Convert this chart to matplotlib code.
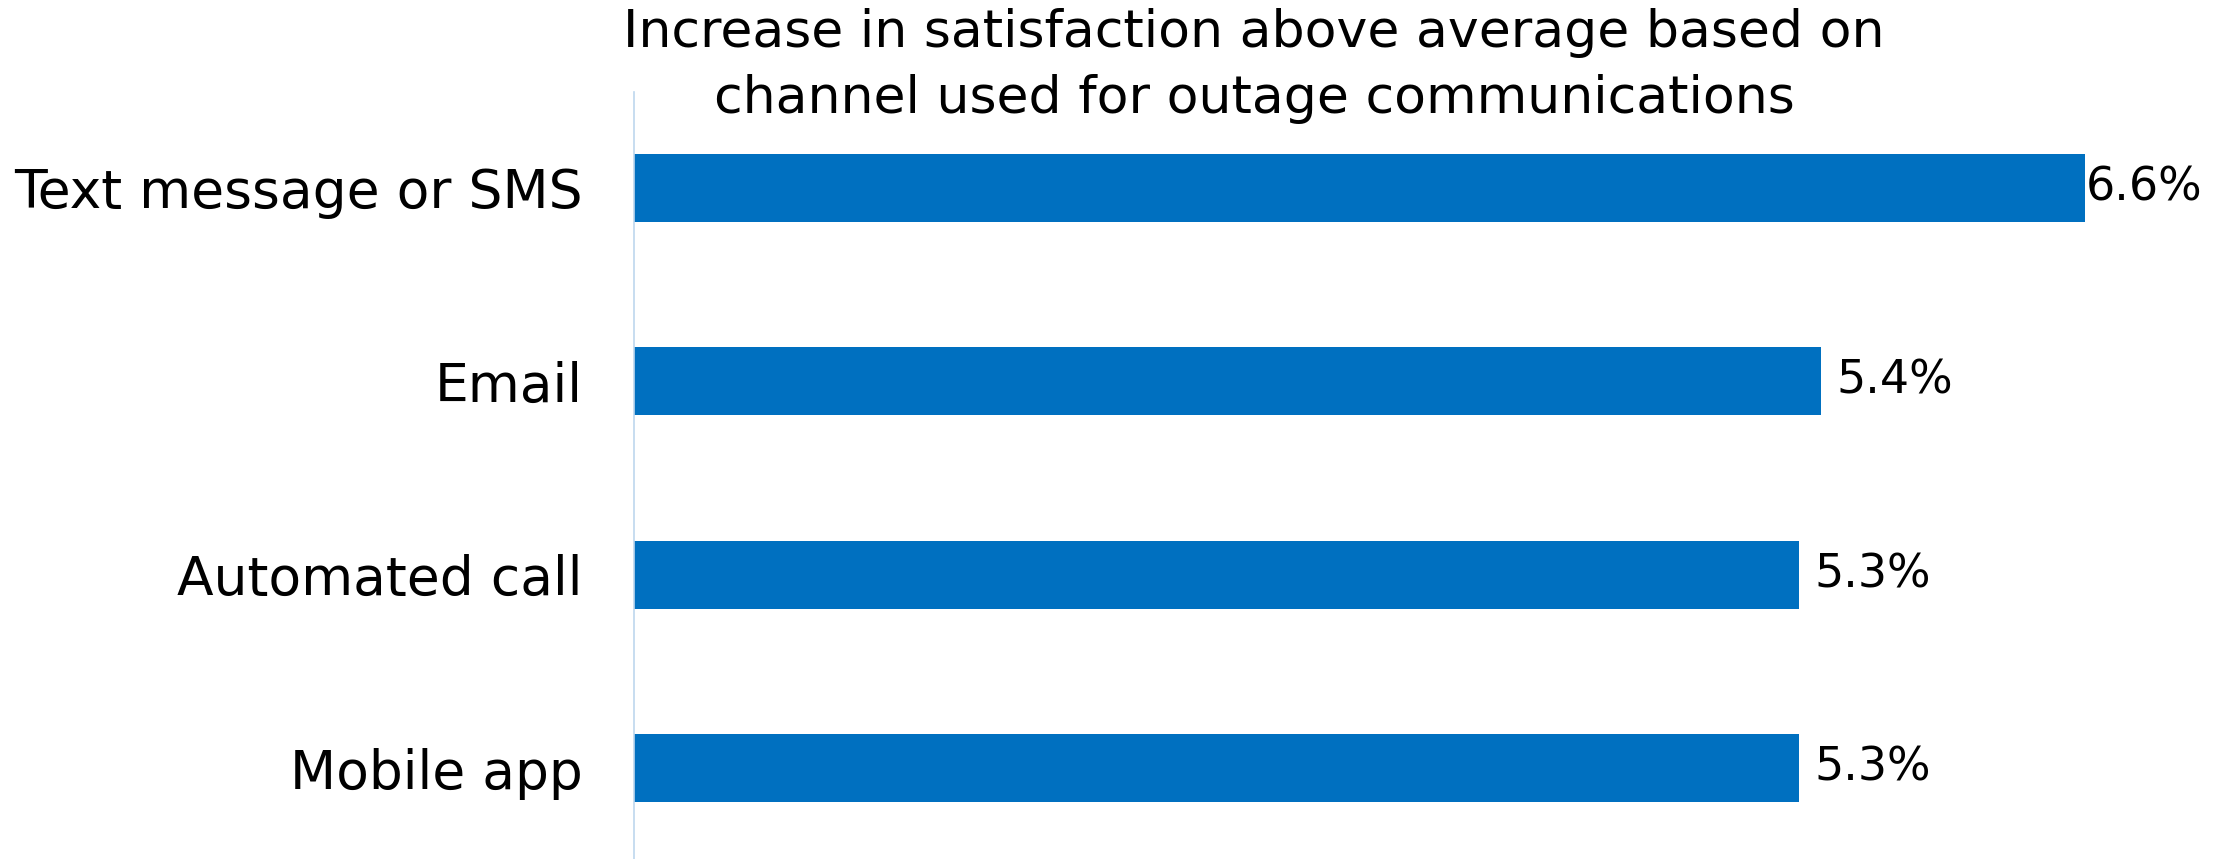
import matplotlib
matplotlib.use("Agg")
import matplotlib.pyplot as plt

plt.rcParams['font.family'] = ['DejaVu Sans']

channels = ["Text message or SMS", "Email", "Automated call", "Mobile app"]
increase = [6.6, 5.4, 5.3, 5.3]
value_labels = ["6.6%", "5.4%", "5.3%", "5.3%"]

bar_color = "#0070C0"
axis_color = "#BDD7EE"

fig = plt.figure(figsize=(22.15, 8.59), dpi=100)
# axes box in figure fractions: left edge at the vertical axis line
ax = fig.add_axes([634 / 2215, 0.0, 1 - 634 / 2215, 1 - 92 / 859])

pos = list(range(len(channels)))
ax.barh(pos, increase, height=0.35, color=bar_color)

ax.set_xlim(0, (2215 - 634) / 219.8)
ax.set_ylim(3.47, -0.496)

ax.set_yticks(pos)
ax.set_yticklabels(channels, fontsize=38.5)
ax.tick_params(axis='y', length=0, pad=37)
ax.set_xticks([])

for side in ["top", "right", "bottom"]:
    ax.spines[side].set_visible(False)
ax.spines["left"].set_color(axis_color)
ax.spines["left"].set_linewidth(1.2)

for i, (v, lab) in enumerate(zip(increase, value_labels)):
    off = 1 if i == 0 else 11
    ax.annotate(lab, (v, i), xytext=(off, 0), textcoords='offset points',
                va='center', ha='left', fontsize=33)

fig.text(1254 / 2215, 1 - 66 / 859,
         "Increase in satisfaction above average based on\nchannel used for outage communications",
         ha='center', va='center', fontsize=37.5, linespacing=1.4)

fig.savefig("out.png", dpi=100)
